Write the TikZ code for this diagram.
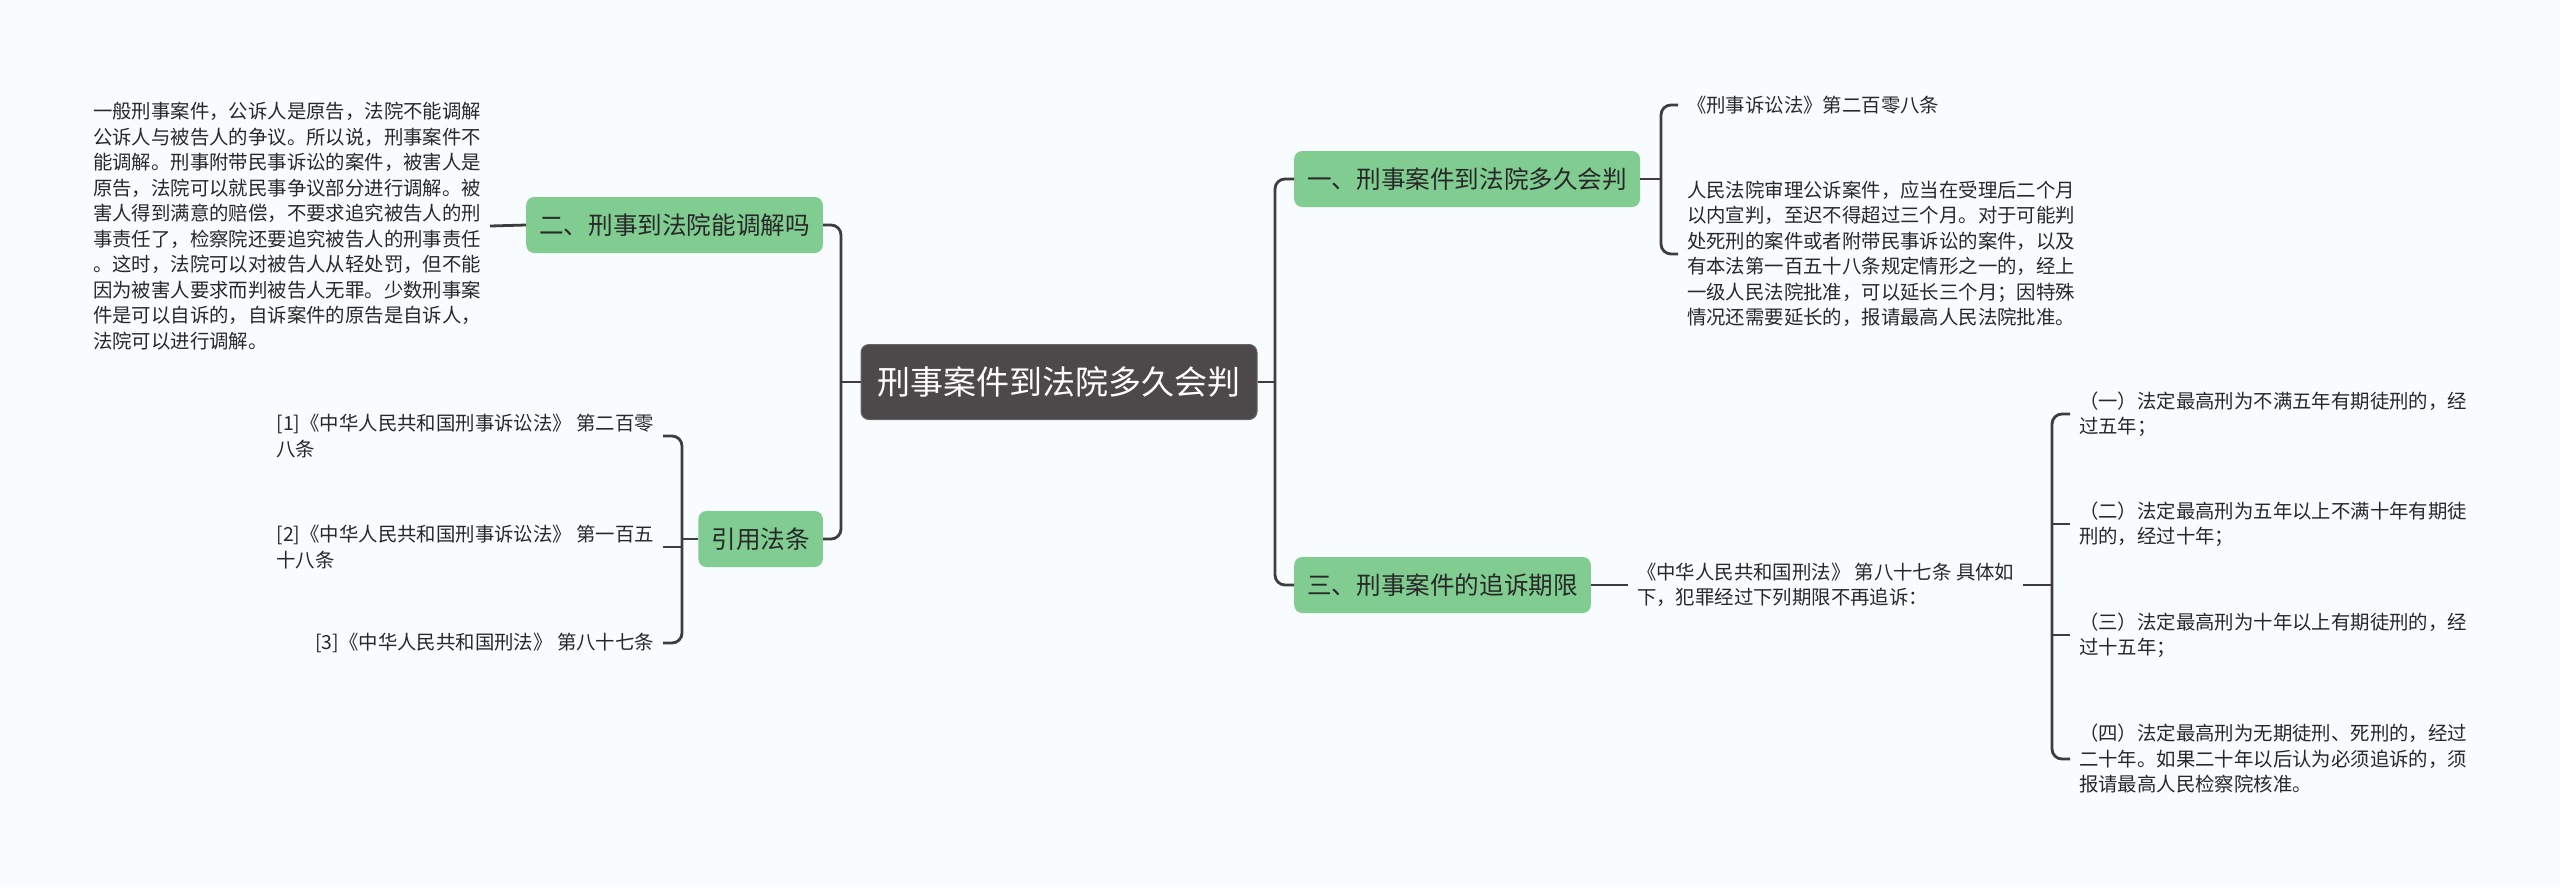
\documentclass[tikz,border=0pt]{standalone}
\usepackage{fontspec}
\setmainfont{Noto Sans CJK SC}
\usepackage{tikz}
\usetikzlibrary{positioning}
\definecolor{bgpage}{RGB}{248,252,254}
\definecolor{topicgreen}{RGB}{128,204,145}
\definecolor{rootgray}{RGB}{77,72,73}
\definecolor{wire}{RGB}{62,60,60}
\definecolor{ink}{RGB}{40,40,40}

\begin{document}
\begin{tikzpicture}[x=1pt,y=-1pt,
  topic/.style={rectangle,rounded corners=8pt,fill=topicgreen,text=ink,inner xsep=13pt,inner ysep=0pt,minimum height=56pt,font=\fontsize{24.6}{28}\selectfont},
  leaf/.style={align=left,inner sep=0pt,outer sep=9pt,text=ink,font=\fontsize{19.4}{25.5}\selectfont},
  link/.style={wire,line width=2.8pt},
  forklink/.style={link,rounded corners=10pt}]
\useasboundingbox[fill=bgpage] (0,0) rectangle (2560,887);

\node[rectangle,rounded corners=8pt,fill=rootgray,draw=rootgray!85!white,line width=1pt,text=white,minimum width=396pt,minimum height=75pt,font=\fontsize{33}{36}\selectfont] (root) at (1059,382) {刑事案件到法院多久会判};

\node[topic,anchor=west] (n1) at (1294,179) {一、刑事案件到法院多久会判};
\node[topic,anchor=west] (n3) at (1294,585) {三、刑事案件的追诉期限};
\node[topic,anchor=east] (n2) at (823,225) {二、刑事到法院能调解吗};
\node[topic,anchor=east] (n4) at (823,539) {引用法条};

\coordinate (lt) at (841,382);
\coordinate (rt) at (1275,382);
\coordinate (b1) at (1661,179);
\coordinate (b3) at (2052,585);
\coordinate (b4) at (682,539);

\node[leaf,anchor=west] (r1) at (1678,105) {《刑事诉讼法》第二百零八条};
\node[leaf,anchor=west] (r2) at (1678,254) {人民法院审理公诉案件，应当在受理后二个月\\以内宣判，至迟不得超过三个月。对于可能判\\处死刑的案件或者附带民事诉讼的案件，以及\\有本法第一百五十八条规定情形之一的，经上\\一级人民法院批准，可以延长三个月；因特殊\\情况还需要延长的，报请最高人民法院批准。};

\node[leaf,anchor=west] (t3) at (1628,585) {《中华人民共和国刑法》 第八十七条 具体如\\下，犯罪经过下列期限不再追诉：};
\node[leaf,anchor=west] (s1) at (2070,414) {（一）法定最高刑为不满五年有期徒刑的，经\\过五年；};
\node[leaf,anchor=west] (s2) at (2070,524) {（二）法定最高刑为五年以上不满十年有期徒\\刑的，经过十年；};
\node[leaf,anchor=west] (s3) at (2070,635) {（三）法定最高刑为十年以上有期徒刑的，经\\过十五年；};
\node[leaf,anchor=west] (s4) at (2070,759) {（四）法定最高刑为无期徒刑、死刑的，经过\\二十年。如果二十年以后认为必须追诉的，须\\报请最高人民检察院核准。};

\node[leaf,anchor=east] (d2) at (490,226) {一般刑事案件，公诉人是原告，法院不能调解\\公诉人与被告人的争议。所以说，刑事案件不\\能调解。刑事附带民事诉讼的案件，被害人是\\原告，法院可以就民事争议部分进行调解。被\\害人得到满意的赔偿，不要求追究被告人的刑\\事责任了，检察院还要追究被告人的刑事责任\\。这时，法院可以对被告人从轻处罚，但不能\\因为被害人要求而判被告人无罪。少数刑事案\\件是可以自诉的，自诉案件的原告是自诉人，\\法院可以进行调解。};

\node[leaf,anchor=east] (f1) at (663,436) {[1]《中华人民共和国刑事诉讼法》 第二百零\\八条};
\node[leaf,anchor=east] (f2) at (663,547) {[2]《中华人民共和国刑事诉讼法》 第一百五\\十八条};
\node[leaf,anchor=east] (f3) at (663,643) {[3]《中华人民共和国刑法》 第八十七条};

\draw[link] (root.west) -- (lt);
\draw[forklink] (n2.east) -| (lt) |- (n4.east);
\draw[link] (root.east) -- (rt);
\draw[forklink] (n1.west) -| (rt) |- (n3.west);

\draw[link] (n1.east) -- (b1);
\draw[forklink] (r1.west) -| (b1) |- (r2.west);

\draw[link] (n3.east) -- (t3.west);
\draw[link] (t3.east) -- (b3);
\draw[forklink] (s1.west) -| (b3) |- (s4.west);
\foreach \s in {s2,s3} \draw[link] (b3 |- \s.west) -- (\s.west);

\draw[link] (n2.west) -- (d2.east);
\draw[link] (n4.west) -- (b4);
\draw[forklink] (f1.east) -| (b4) |- (f3.east);
\draw[link] (b4 |- f2.east) -- (f2.east);
\end{tikzpicture}
\end{document}
